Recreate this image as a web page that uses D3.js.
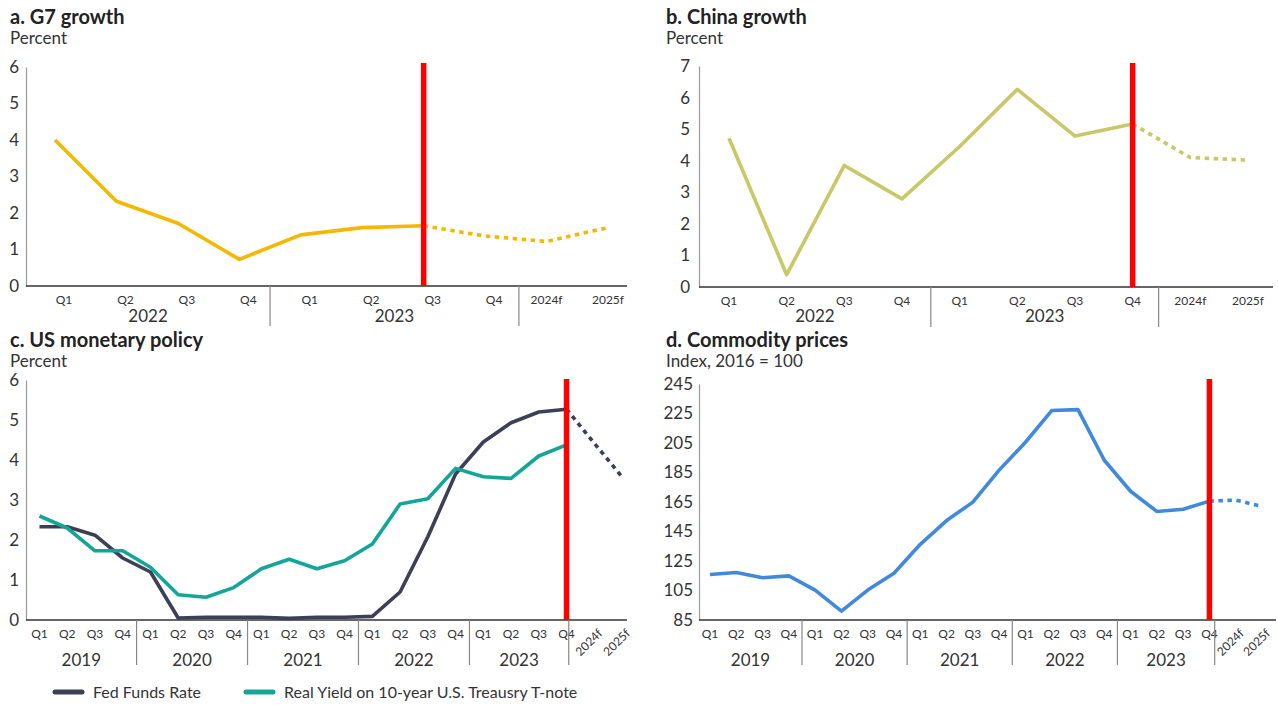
<!DOCTYPE html>
<html><head><meta charset="utf-8">
<script src="https://cdn.jsdelivr.net/npm/d3@7"></script>
<style>
body{margin:0;background:#fff;}
svg{font-family:Lato,"Noto Sans",sans-serif;}
</style></head>
<body><svg id="c" width="1278" height="705"></svg>
<script>
// ---------- DATA ----------
const g7Periods = ["2022Q1","2022Q2","2022Q3","2022Q4","2023Q1","2023Q2","2023Q3","2023Q4","2024f","2025f"];
const g7Growth = [4.0,2.32,1.72,0.73,1.4,1.6,1.65,1.37,1.22,1.6];
const g7ActualCount = 7;
const g7Years = ["2022","2023"];
const g7Ticks = [0,1,2,3,4,5,6];

const chinaPeriods = ["2022Q1","2022Q2","2022Q3","2022Q4","2023Q1","2023Q2","2023Q3","2023Q4","2024f","2025f"];
const chinaGrowth = [4.71,0.39,3.85,2.79,4.45,6.26,4.78,5.16,4.1,4.02];
const chinaActualCount = 8;
const chinaYears = ["2022","2023"];
const chinaTicks = [0,1,2,3,4,5,6,7];

const usPeriods = ["2019Q1","2019Q2","2019Q3","2019Q4","2020Q1","2020Q2","2020Q3","2020Q4","2021Q1","2021Q2","2021Q3","2021Q4","2022Q1","2022Q2","2022Q3","2022Q4","2023Q1","2023Q2","2023Q3","2023Q4","2024f","2025f"];
const fedFundsRate = [2.33,2.33,2.12,1.55,1.2,0.05,0.07,0.07,0.07,0.04,0.07,0.07,0.09,0.7,2.08,3.65,4.45,4.93,5.2,5.27,4.42,3.58];
const realYield10y = [2.6,2.3,1.73,1.73,1.32,0.63,0.57,0.81,1.28,1.52,1.28,1.48,1.9,2.9,3.03,3.79,3.58,3.54,4.1,4.38];
const usActualCount = 20;
const usYears = ["2019","2020","2021","2022","2023"];
const usTicks = [0,1,2,3,4,5,6];

const commPeriods = usPeriods;
const commodityIndex = [115.8,117.2,113.6,114.9,105.3,91,105.3,116.7,136.3,152.4,164.9,186.6,205.5,227.0,227.6,193.3,172.3,158.6,160.1,165.6,166.3,162];
const commActualCount = 20;
const commYears = ["2019","2020","2021","2022","2023"];
const commTicks = [85,105,125,145,165,185,205,225,245];

const seriesNames = ["Fed Funds Rate","Real Yield on 10-year U.S. Treausry T-note"];

// ---------- DRAW ----------
const svg = d3.select("#c");
const TXT = "#333";

function panel(o){
  const g = svg.append("g");
  const x = d3.scalePoint().domain(o.periods).range([o.px0,o.px1]);
  const step = x.step();
  const y = d3.scaleLinear().domain(o.yDomain).range([o.yBottom,o.yTop]);

  g.append("text").attr("x",o.tx).attr("y",o.ty).attr("font-size",20).attr("font-weight",700)
    .attr("fill","#222").text(o.title);
  g.append("text").attr("x",o.tx).attr("y",o.ty+20).attr("font-size",17).attr("fill",TXT).text(o.subtitle);

  // y axis
  const ya = d3.axisLeft(y).tickValues(o.ticks).tickFormat(d3.format("d")).tickSize(0).tickPadding(o.tickPad||7);
  const yg = g.append("g").attr("transform",`translate(${o.ax0},0)`).call(ya);
  yg.select(".domain").attr("stroke","#999").attr("stroke-width",1.2);
  yg.selectAll("text").attr("font-size",17).attr("fill",TXT).attr("font-family","Lato,'Noto Sans',sans-serif");

  // x axis baseline
  g.append("line").attr("x1",o.ax0).attr("x2",o.ax1).attr("y1",o.yBottom).attr("y2",o.yBottom)
    .attr("stroke","#333").attr("stroke-width",1.3);

  // category labels
  o.periods.forEach((p,i)=>{
    const isF = p.endsWith("f");
    const lbl = isF ? p : p.slice(4);
    const lx = x(p) + (isF ? 0 : (o.qdx||0));
    if(isF && o.rotateF){
      g.append("text").attr("transform",`translate(${lx+9},${o.yBottom+14}) rotate(-45)`)
        .attr("text-anchor","end").attr("font-size",12).attr("fill",TXT).text(lbl);
    } else {
      g.append("text").attr("x",lx).attr("y",o.yBottom+18).attr("text-anchor","middle")
        .attr("font-size",12).attr("fill",TXT).text(lbl);
    }
  });

  // year separators and labels
  const bounds=[o.ax0];
  o.years.forEach((yr,k)=>{
    const lastQ = o.periods.indexOf(yr+"Q4");
    const frac = (k===o.years.length-1) ? o.fFrac : 0.5;
    const sx = x(o.periods[lastQ]) + frac*step;
    bounds.push(sx);
    g.append("line").attr("x1",sx).attr("x2",sx).attr("y1",o.yBottom).attr("y2",o.yBottom+o.sepLen)
      .attr("stroke","#888").attr("stroke-width",1.2);
  });
  o.years.forEach((yr,k)=>{
    g.append("text").attr("x",(bounds[k]+bounds[k+1])/2).attr("y",o.yBottom+o.yearDy)
      .attr("text-anchor","middle").attr("font-size",17).attr("fill",TXT).text(yr);
  });

  // series
  o.series.forEach(s=>{
    const pts = s.values.map((v,i)=>[x(o.periods[i]),y(v)]);
    const line = d3.line();
    g.append("path").attr("d",line(pts.slice(0,s.actual))).attr("fill","none")
      .attr("stroke",s.color).attr("stroke-width",3.6).attr("stroke-linejoin","round");
    if(pts.length>s.actual){
      g.append("path").attr("d",line(pts.slice(s.actual-1))).attr("fill","none")
        .attr("stroke",s.color).attr("stroke-width",3.6).attr("stroke-dasharray","4.5,4.5");
    }
  });

  // red marker line
  const rx = x(o.periods[o.redIndex]);
  g.append("line").attr("x1",rx).attr("x2",rx).attr("y1",o.redTop).attr("y2",o.yBottom)
    .attr("stroke","#FF0000").attr("stroke-width",5.5);
}

panel({periods:g7Periods, px0:55, px1:608, ax0:26, ax1:627, yDomain:[0,6], yBottom:286, yTop:67, ticks:g7Ticks,
  title:"a. G7 growth", subtitle:"Percent", tx:10, ty:24, years:g7Years, fFrac:0.55, sepLen:40, yearDy:36, qdx:9,
  redIndex:g7ActualCount-1, redTop:63, tickPad:7,
  series:[{values:g7Growth, color:"#F5B800", actual:g7ActualCount}]});

panel({periods:chinaPeriods, px0:729, px1:1248, ax0:699, ax1:1273, yDomain:[0,7], yBottom:287, yTop:66, ticks:chinaTicks,
  title:"b. China growth", subtitle:"Percent", tx:666, ty:24, years:chinaYears, fFrac:0.45, sepLen:40, yearDy:35, qdx:0,
  redIndex:chinaActualCount-1, redTop:63, tickPad:9,
  series:[{values:chinaGrowth, color:"#C8C868", actual:chinaActualCount}]});

panel({periods:usPeriods, px0:39.5, px1:622, ax0:26, ax1:627, yDomain:[0,6], yBottom:620, yTop:380, ticks:usTicks,
  title:"c. US monetary policy", subtitle:"Percent", tx:10, ty:347, years:usYears, fFrac:0.08, sepLen:45, yearDy:46, qdx:0,
  redIndex:usActualCount-1, redTop:379, tickPad:7, rotateF:true,
  series:[{values:fedFundsRate, color:"#3C3F55", actual:usActualCount},
          {values:realYield10y, color:"#13A696", actual:usActualCount}]});

panel({periods:commPeriods, px0:710, px1:1262, ax0:699, ax1:1276, yDomain:[85,245], yBottom:620, yTop:384, ticks:commTicks,
  title:"d. Commodity prices", subtitle:"Index, 2016 = 100", tx:666, ty:347, years:commYears, fFrac:0.2, sepLen:45, yearDy:46, qdx:0,
  redIndex:commActualCount-1, redTop:379, tickPad:6, rotateF:true,
  series:[{values:commodityIndex, color:"#4189DD", actual:commActualCount}]});

// legend
const leg = svg.append("g");
const legColors = ["#3C3F55","#13A696"];
const legX = [55,246];
seriesNames.forEach((n,i)=>{
  leg.append("line").attr("x1",legX[i]).attr("x2",legX[i]+27).attr("y1",692).attr("y2",692)
    .attr("stroke",legColors[i]).attr("stroke-width",5).attr("stroke-linecap","round");
  leg.append("text").attr("x",legX[i]+38).attr("y",698).attr("font-size",16).attr("fill",TXT).text(n);
});
</script></body></html>
